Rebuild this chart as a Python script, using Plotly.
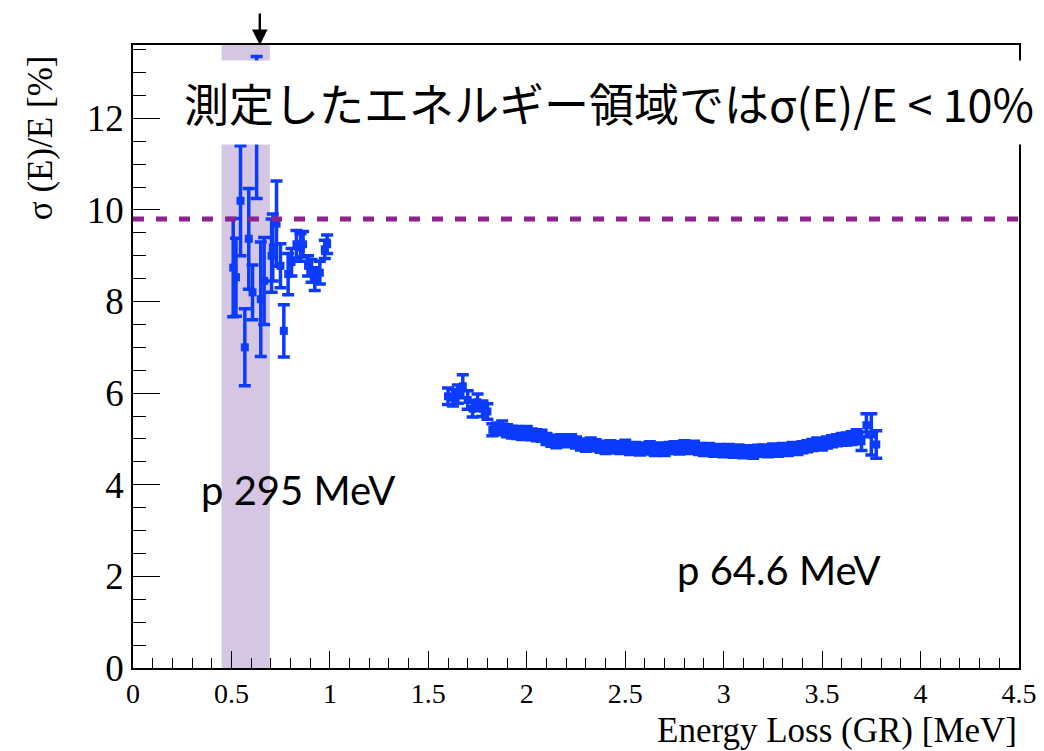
import plotly.graph_objects as go

# p 295 MeV data
x_295 = [0.509, 0.523, 0.546, 0.568, 0.588, 0.607, 0.628, 0.649, 0.666, 0.704,
         0.710, 0.729, 0.749, 0.766, 0.788, 0.805, 0.830, 0.851, 0.864, 0.889,
         0.907, 0.923, 0.949, 0.974, 0.986]
y_295 = [8.74, 8.53, 10.2, 7.00, 9.37, 8.20, 11.8, 8.05, 8.45, 9.00,
         9.18, 9.70, 8.78, 7.36, 8.60, 8.86, 9.25, 9.18, 9.25, 8.78,
         8.67, 8.49, 8.63, 9.14, 9.25]
e_295 = [1.07, 0.85, 1.20, 0.84, 1.10, 0.60, 1.55, 1.25, 0.95, 0.80,
         0.73, 0.93, 0.48, 0.57, 0.45, 0.30, 0.30, 0.30, 0.28, 0.22,
         0.25, 0.25, 0.25, 0.20, 0.20]

# p 64.6 MeV data
x_646 = [1.600, 1.625, 1.650, 1.675, 1.700, 1.725, 1.750, 1.775, 1.800, 1.825,
         1.850, 1.875, 1.900, 1.925, 1.950, 1.975, 2.000, 2.025, 2.050, 2.075,
         2.100, 2.125, 2.150, 2.175, 2.200, 2.225, 2.250, 2.275, 2.300, 2.325,
         2.350, 2.375, 2.400, 2.425, 2.450, 2.475, 2.500, 2.525, 2.550, 2.575,
         2.600, 2.625, 2.650, 2.675, 2.700, 2.725, 2.750, 2.775, 2.800, 2.825,
         2.850, 2.875, 2.900, 2.925, 2.950, 2.975, 3.000, 3.025, 3.050, 3.075,
         3.100, 3.125, 3.150, 3.175, 3.200, 3.225, 3.250, 3.275, 3.300, 3.325,
         3.350, 3.375, 3.400, 3.425, 3.450, 3.475, 3.500, 3.525, 3.550, 3.575,
         3.600, 3.625, 3.650, 3.675, 3.700, 3.725, 3.750, 3.775]
y_646 = [5.93, 5.90, 5.98, 6.15, 5.85, 5.66, 5.80, 5.66, 5.60, 5.20,
         5.22, 5.26, 5.18, 5.15, 5.14, 5.11, 5.15, 5.10, 5.08, 5.07,
         5.00, 4.96, 4.93, 4.97, 4.95, 4.97, 4.92, 4.88, 4.85, 4.90,
         4.86, 4.83, 4.80, 4.84, 4.82, 4.80, 4.85, 4.78, 4.80, 4.77,
         4.79, 4.82, 4.76, 4.79, 4.76, 4.80, 4.82, 4.79, 4.84, 4.80,
         4.83, 4.78, 4.76, 4.78, 4.74, 4.76, 4.73, 4.76, 4.72, 4.75,
         4.71, 4.73, 4.70, 4.74, 4.75, 4.73, 4.77, 4.74, 4.78, 4.76,
         4.80, 4.78, 4.82, 4.84, 4.87, 4.90, 4.88, 4.92, 4.95, 4.97,
         4.99, 5.00, 5.02, 5.05, 4.95, 5.30, 5.10, 4.88]
e_646 = [0.18, 0.18, 0.20, 0.25, 0.20, 0.18, 0.18, 0.17, 0.17, 0.13,
         0.13, 0.13, 0.13, 0.13, 0.13, 0.12, 0.12, 0.12, 0.12, 0.12,
         0.12, 0.12, 0.12, 0.12, 0.12, 0.12, 0.12, 0.12, 0.12, 0.12,
         0.12, 0.12, 0.12, 0.12, 0.12, 0.12, 0.12, 0.12, 0.12, 0.12,
         0.12, 0.12, 0.12, 0.12, 0.12, 0.12, 0.12, 0.12, 0.12, 0.12,
         0.12, 0.12, 0.12, 0.12, 0.12, 0.12, 0.12, 0.12, 0.12, 0.12,
         0.12, 0.12, 0.12, 0.12, 0.12, 0.12, 0.12, 0.12, 0.12, 0.12,
         0.12, 0.12, 0.12, 0.12, 0.12, 0.12, 0.12, 0.12, 0.12, 0.12,
         0.13, 0.13, 0.14, 0.15, 0.20, 0.25, 0.45, 0.30]

limit_value = 9.8
band_range = [0.45, 0.695]
arrow_x = 0.644

BLUE = "#0b3bff"

fig = go.Figure()
for xs, ys, es in [(x_295, y_295, e_295), (x_646, y_646, e_646)]:
    fig.add_trace(go.Scatter(
        x=xs, y=ys, mode="markers",
        marker=dict(symbol="square", size=8, color=BLUE),
        error_y=dict(type="data", array=es, visible=True, color=BLUE,
                     thickness=3.5, width=6),
        showlegend=False, hoverinfo="skip"))

# highlighted band
fig.add_shape(type="rect", xref="x", yref="paper", x0=band_range[0], x1=band_range[1],
              y0=0, y1=1, fillcolor="#d5c6e3", line=dict(width=0), layer="below")
# dashed limit line
fig.add_shape(type="line", xref="paper", yref="y", x0=0, x1=1,
              y0=limit_value, y1=limit_value,
              line=dict(color="#8e2390", width=5, dash="11px,12px"), layer="above")

serif = "Liberation Serif"
fig.update_layout(
    width=1036, height=743,
    margin=dict(l=125, r=25, t=37, b=83),
    paper_bgcolor="white", plot_bgcolor="white",
    xaxis=dict(range=[0, 4.5], dtick=0.5, tick0=0, ticks="inside", ticklen=17,
               tickwidth=1.3, tickcolor="black", showgrid=False, zeroline=False,
               showline=True, mirror=True, linecolor="black", linewidth=1.5,
               automargin=False,
               tickfont=dict(family=serif, size=28, color="black"),
               minor=dict(dtick=0.1, ticks="inside", ticklen=10, tickwidth=1.3,
                          tickcolor="black", showgrid=False)),
    yaxis=dict(range=[0, 13.6], dtick=2, tick0=0, ticks="inside", ticklen=27,
               tickwidth=1.3, tickcolor="black", showgrid=False, zeroline=False,
               showline=True, mirror=True, linecolor="black", linewidth=1.5,
               automargin=False,
               tickfont=dict(family=serif, size=37, color="black"),
               minor=dict(dtick=0.5, ticks="inside", ticklen=13, tickwidth=1.3,
                          tickcolor="black", showgrid=False)),
)

# axis titles
fig.add_annotation(text="Energy Loss (GR) [MeV]", xref="paper", yref="paper",
                   x=1, y=-0.101, xanchor="right", yanchor="middle", showarrow=False,
                   font=dict(family=serif, size=35, color="black"))
fig.add_annotation(text="σ (E)/E [%]", xref="paper", yref="paper",
                   x=-0.105, y=0.852, xanchor="center", yanchor="middle", showarrow=False,
                   textangle=-90, font=dict(family=serif, size=35, color="black"))

# labels
fig.add_annotation(text="p 295 MeV", x=0.84, y=3.88, xref="x", yref="y", showarrow=False,
                   font=dict(family="Lato", size=40, color="black"))
fig.add_annotation(text="p 64.6 MeV", x=3.28, y=2.13, xref="x", yref="y", showarrow=False,
                   font=dict(family="Lato", size=40, color="black"))

# headline with white box
fig.add_annotation(text="測定したエネルギー領域ではσ(E)/E < 10%", x=2.42, y=12.35,
                   xref="x", yref="y", showarrow=False, bgcolor="white", borderpad=9,
                   font=dict(family="Noto Sans CJK JP", size=45, color="black"))

# arrow
fig.add_annotation(text="", x=arrow_x, y=1, xref="x", yref="paper", showarrow=True,
                   ax=0, ay=-33, arrowhead=2, arrowsize=1.3, arrowwidth=2.4,
                   arrowcolor="black")

fig.write_html("out.html")
